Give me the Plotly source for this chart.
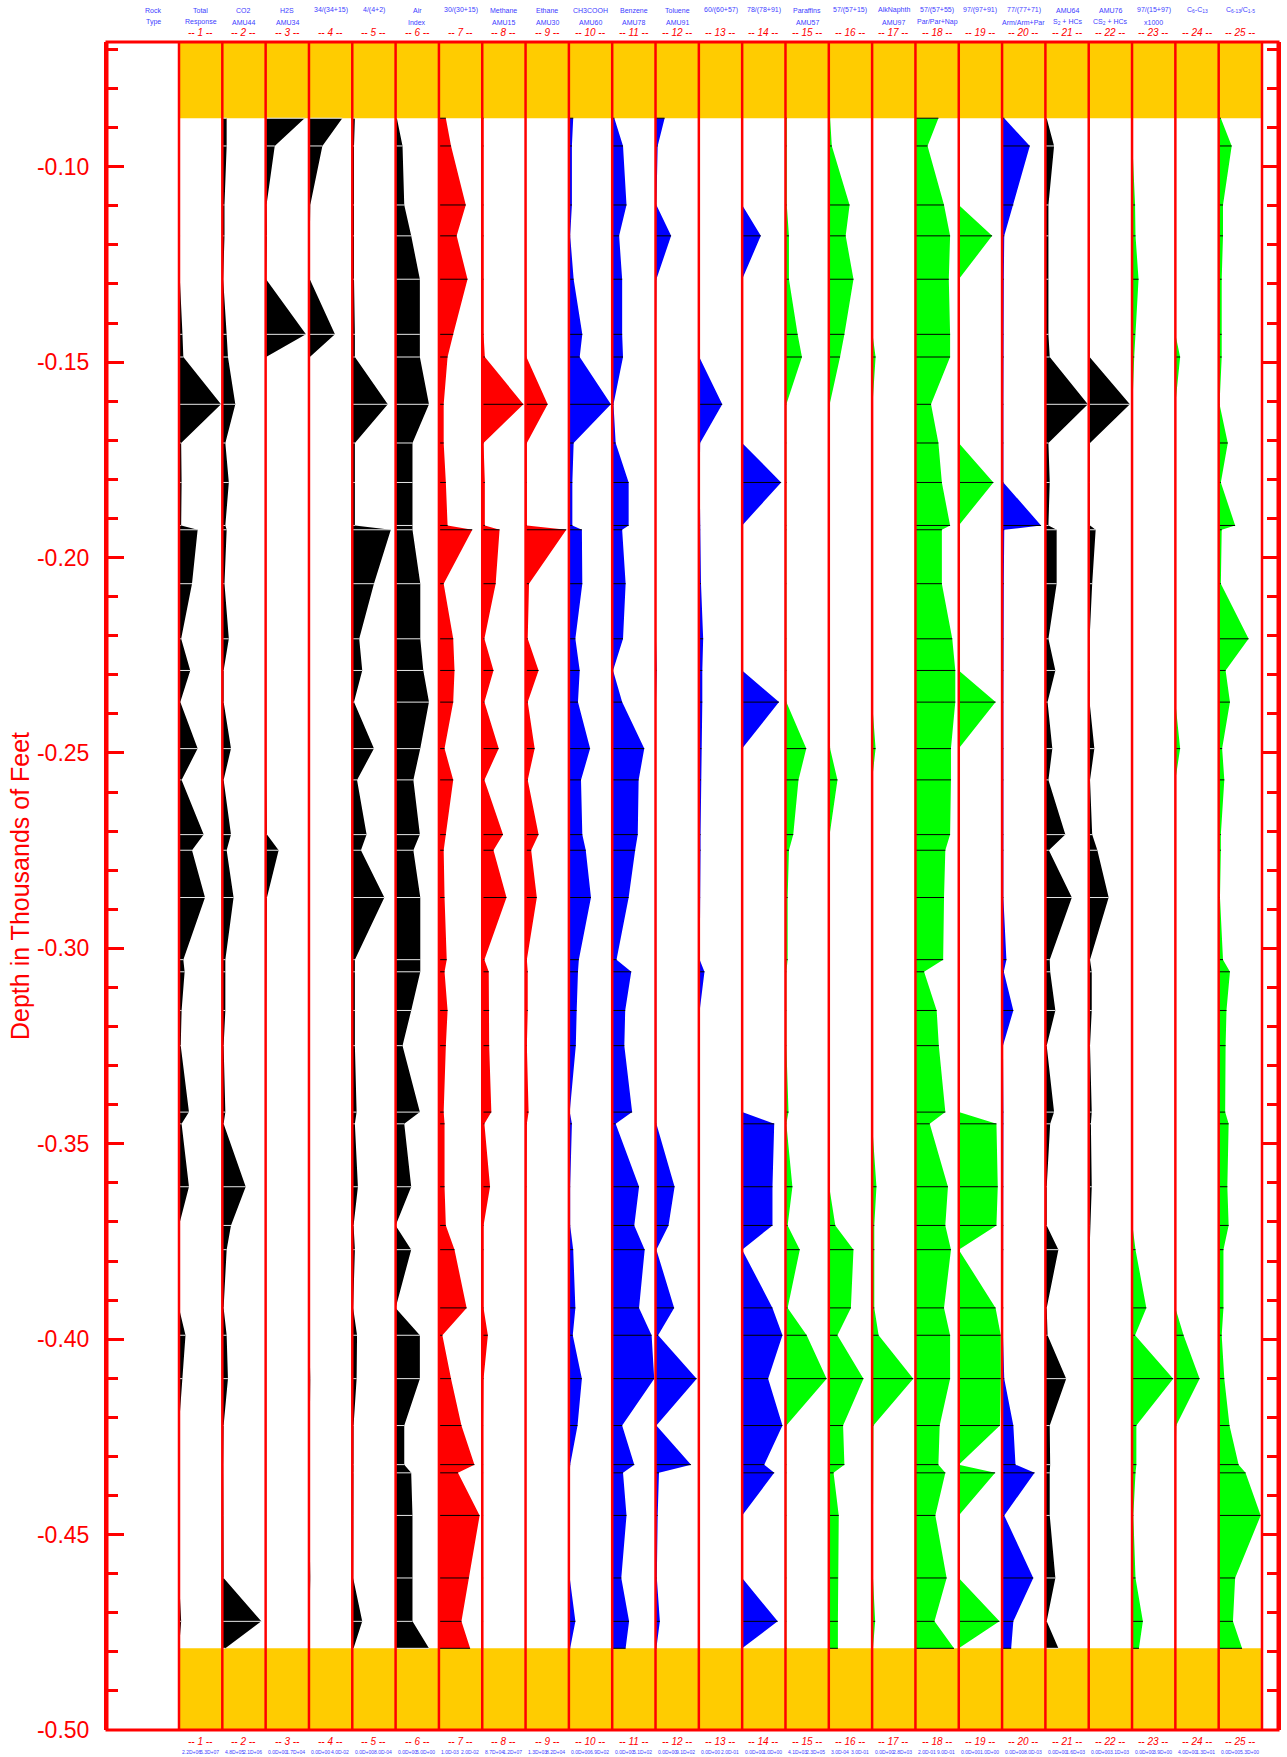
import plotly.graph_objects as go

# ---------------- data ----------------
depths = [-0.0876, -0.0947, -0.1098, -0.1177, -0.1288, -0.1429, -0.1487, -0.1608, -0.1707, -0.1808,
          -0.1918, -0.1929, -0.2067, -0.2208, -0.2289, -0.2370, -0.2489, -0.2569, -0.2709, -0.2749,
          -0.2870, -0.3029, -0.3060, -0.3159, -0.3249, -0.3419, -0.3449, -0.3610, -0.3709, -0.3771,
          -0.3920, -0.3990, -0.4101, -0.4221, -0.4321, -0.4342, -0.4451, -0.4611, -0.4722, -0.4791]

depth_tick_values = [-0.10, -0.15, -0.20, -0.25, -0.30, -0.35, -0.40, -0.45, -0.50]
depth_tick_labels = ["-0.10", "-0.15", "-0.20", "-0.25", "-0.30", "-0.35", "-0.40", "-0.45", "-0.50"]

# values are fractions of each track's scale (min..max shown under the track)
total_response = [0.02, 0.02, 0.02, 0.03, 0.02, 0.08, 0.10, 0.97, 0.05, 0.06,
                  0.05, 0.43, 0.30, 0.05, 0.26, 0.03, 0.43, 0.06, 0.57, 0.30,
                  0.60, 0.10, 0.13, 0.06, 0.04, 0.23, 0.06, 0.23, 0.00, 0.02,
                  0.00, 0.15, 0.08, 0.00, 0.00, 0.00, 0.00, 0.00, 0.05, 0.01]
co2 = [0.10, 0.10, 0.05, 0.05, 0.02, 0.10, 0.13, 0.30, 0.07, 0.15,
       0.07, 0.10, 0.05, 0.15, 0.03, 0.03, 0.20, 0.03, 0.20, 0.10,
       0.26, 0.07, 0.07, 0.07, 0.03, 0.07, 0.03, 0.54, 0.20, 0.10,
       0.03, 0.10, 0.13, 0.03, 0.02, 0.02, 0.02, 0.03, 0.90, 0.07]
h2s = [0.90, 0.21, 0.02, 0.03, 0.01, 0.93, 0.01, 0.01, 0.01, 0.01,
       0.01, 0.01, 0.01, 0.01, 0.01, 0.01, 0.01, 0.01, 0.03, 0.30,
       0.03, 0.01, 0.01, 0.01, 0.01, 0.01, 0.01, 0.01, 0.01, 0.01,
       0.01, 0.01, 0.01, 0.01, 0.01, 0.01, 0.01, 0.01, 0.01, 0.01]
r34 = [0.77, 0.31, 0.03, 0.02, 0.02, 0.60, 0.02, 0.01, 0.01, 0.01,
       0.01, 0.01, 0.01, 0.01, 0.01, 0.01, 0.01, 0.01, 0.01, 0.01,
       0.01, 0.01, 0.01, 0.01, 0.01, 0.01, 0.01, 0.01, 0.01, 0.01,
       0.01, 0.01, 0.03, 0.01, 0.01, 0.01, 0.01, 0.03, 0.01, 0.01]
r4 = [0.06, 0.04, 0.04, 0.04, 0.04, 0.06, 0.06, 0.82, 0.06, 0.06,
      0.06, 0.89, 0.50, 0.16, 0.23, 0.04, 0.50, 0.11, 0.33, 0.20,
      0.74, 0.06, 0.06, 0.06, 0.06, 0.10, 0.06, 0.13, 0.03, 0.06,
      0.02, 0.11, 0.10, 0.03, 0.03, 0.03, 0.02, 0.02, 0.23, 0.03]
air_index = [0.03, 0.16, 0.20, 0.36, 0.56, 0.56, 0.56, 0.77, 0.39, 0.39,
             0.39, 0.39, 0.57, 0.57, 0.64, 0.77, 0.57, 0.41, 0.56, 0.41,
             0.57, 0.57, 0.57, 0.36, 0.16, 0.56, 0.20, 0.36, 0.00, 0.36,
             0.00, 0.56, 0.56, 0.20, 0.20, 0.36, 0.39, 0.39, 0.39, 0.77]
r30 = [0.16, 0.28, 0.62, 0.41, 0.66, 0.33, 0.20, 0.11, 0.11, 0.16,
       0.20, 0.77, 0.11, 0.33, 0.36, 0.33, 0.13, 0.33, 0.16, 0.11,
       0.13, 0.18, 0.13, 0.20, 0.16, 0.11, 0.13, 0.13, 0.16, 0.36,
       0.64, 0.08, 0.28, 0.52, 0.82, 0.44, 0.94, 0.69, 0.52, 0.72]
methane = [0.03, 0.03, 0.03, 0.03, 0.03, 0.03, 0.06, 0.95, 0.03, 0.06,
           0.06, 0.40, 0.31, 0.05, 0.26, 0.05, 0.38, 0.05, 0.48, 0.26,
           0.56, 0.05, 0.15, 0.16, 0.16, 0.21, 0.05, 0.18, 0.03, 0.03,
           0.03, 0.13, 0.03, 0.02, 0.02, 0.02, 0.02, 0.02, 0.02, 0.02]
ethane = [0.01, 0.01, 0.01, 0.01, 0.01, 0.01, 0.02, 0.51, 0.03, 0.03,
          0.03, 0.94, 0.08, 0.05, 0.30, 0.05, 0.21, 0.05, 0.30, 0.13,
          0.26, 0.03, 0.05, 0.05, 0.03, 0.07, 0.03, 0.02, 0.01, 0.01,
          0.01, 0.01, 0.01, 0.01, 0.01, 0.01, 0.01, 0.01, 0.01, 0.01]
ch3cooh = [0.10, 0.07, 0.07, 0.03, 0.11, 0.31, 0.25, 0.97, 0.11, 0.08,
           0.08, 0.30, 0.31, 0.15, 0.25, 0.21, 0.49, 0.28, 0.31, 0.39,
           0.51, 0.23, 0.21, 0.18, 0.16, 0.02, 0.07, 0.03, 0.03, 0.10,
           0.15, 0.09, 0.30, 0.20, 0.03, 0.02, 0.02, 0.02, 0.15, 0.03]
benzene = [0.05, 0.25, 0.33, 0.16, 0.23, 0.23, 0.25, 0.03, 0.08, 0.38,
           0.38, 0.23, 0.31, 0.25, 0.02, 0.23, 0.74, 0.61, 0.59, 0.53,
           0.38, 0.10, 0.44, 0.30, 0.28, 0.46, 0.08, 0.62, 0.51, 0.75,
           0.62, 0.91, 0.97, 0.23, 0.51, 0.25, 0.33, 0.21, 0.39, 0.31]
toluene = [0.21, 0.05, 0.02, 0.36, 0.02, 0.01, 0.01, 0.01, 0.01, 0.01,
           0.01, 0.01, 0.01, 0.01, 0.03, 0.01, 0.01, 0.01, 0.01, 0.01,
           0.01, 0.01, 0.01, 0.01, 0.01, 0.01, 0.02, 0.44, 0.30, 0.02,
           0.43, 0.06, 0.95, 0.02, 0.82, 0.08, 0.05, 0.03, 0.10, 0.02]
r60 = [0.01, 0.01, 0.01, 0.01, 0.01, 0.01, 0.01, 0.54, 0.03, 0.02,
       0.03, 0.03, 0.05, 0.10, 0.08, 0.08, 0.06, 0.05, 0.04, 0.04,
       0.03, 0.02, 0.13, 0.02, 0.01, 0.01, 0.01, 0.01, 0.01, 0.01,
       0.01, 0.01, 0.01, 0.01, 0.01, 0.01, 0.01, 0.01, 0.01, 0.01]
r78 = [0.00, 0.00, 0.00, 0.43, 0.00, 0.00, 0.00, 0.00, 0.00, 0.90,
       0.00, 0.00, 0.00, 0.00, 0.00, 0.85, 0.00, 0.00, 0.00, 0.00,
       0.00, 0.00, 0.00, 0.00, 0.00, 0.00, 0.74, 0.70, 0.70, 0.00,
       0.70, 0.93, 0.60, 0.93, 0.51, 0.74, 0.00, 0.00, 0.82, 0.00]
paraffins = [0.03, 0.03, 0.03, 0.08, 0.08, 0.28, 0.38, 0.02, 0.02, 0.03,
             0.02, 0.02, 0.02, 0.02, 0.02, 0.02, 0.48, 0.30, 0.18, 0.08,
             0.05, 0.05, 0.02, 0.02, 0.02, 0.07, 0.02, 0.16, 0.05, 0.33,
             0.05, 0.49, 0.95, 0.02, 0.02, 0.02, 0.02, 0.02, 0.02, 0.02]
r57_15 = [0.03, 0.07, 0.48, 0.39, 0.57, 0.36, 0.26, 0.02, 0.02, 0.02,
          0.01, 0.01, 0.01, 0.01, 0.01, 0.01, 0.03, 0.20, 0.02, 0.01,
          0.01, 0.01, 0.01, 0.01, 0.01, 0.01, 0.01, 0.01, 0.15, 0.57,
          0.51, 0.20, 0.80, 0.33, 0.36, 0.11, 0.23, 0.21, 0.21, 0.21]
alk_naphth = [0.00, 0.00, 0.00, 0.00, 0.00, 0.01, 0.08, 0.01, 0.00, 0.00,
              0.00, 0.00, 0.00, 0.00, 0.00, 0.00, 0.08, 0.00, 0.00, 0.00,
              0.00, 0.00, 0.00, 0.00, 0.00, 0.00, 0.00, 0.10, 0.05, 0.05,
              0.05, 0.15, 0.95, 0.03, 0.02, 0.02, 0.02, 0.02, 0.07, 0.02]
r57_55 = [0.53, 0.28, 0.66, 0.80, 0.77, 0.80, 0.80, 0.36, 0.53, 0.61,
          0.80, 0.61, 0.61, 0.85, 0.92, 0.92, 0.82, 0.82, 0.80, 0.69,
          0.66, 0.64, 0.20, 0.49, 0.54, 0.69, 0.33, 0.75, 0.69, 0.82,
          0.66, 0.80, 0.80, 0.56, 0.53, 0.69, 0.46, 0.72, 0.44, 0.89]
r97_91 = [0.00, 0.00, 0.00, 0.77, 0.00, 0.00, 0.00, 0.00, 0.00, 0.80,
          0.00, 0.00, 0.00, 0.00, 0.00, 0.85, 0.00, 0.00, 0.00, 0.00,
          0.00, 0.00, 0.00, 0.00, 0.00, 0.00, 0.87, 0.90, 0.87, 0.00,
          0.85, 0.97, 0.97, 0.95, 0.00, 0.84, 0.00, 0.00, 0.94, 0.00]
r77_71 = [0.05, 0.64, 0.26, 0.05, 0.04, 0.03, 0.04, 0.03, 0.03, 0.03,
          0.90, 0.05, 0.04, 0.03, 0.03, 0.03, 0.03, 0.03, 0.03, 0.03,
          0.03, 0.10, 0.04, 0.26, 0.02, 0.03, 0.03, 0.03, 0.03, 0.03,
          0.03, 0.02, 0.05, 0.26, 0.31, 0.75, 0.05, 0.72, 0.26, 0.21]
amu64 = [0.03, 0.20, 0.07, 0.07, 0.07, 0.07, 0.10, 0.98, 0.07, 0.10,
         0.07, 0.26, 0.26, 0.07, 0.23, 0.05, 0.16, 0.07, 0.46, 0.08,
         0.61, 0.10, 0.11, 0.23, 0.03, 0.20, 0.11, 0.03, 0.03, 0.30,
         0.03, 0.05, 0.48, 0.10, 0.11, 0.10, 0.10, 0.23, 0.03, 0.30]
amu76 = [0.02, 0.02, 0.02, 0.02, 0.02, 0.02, 0.02, 0.95, 0.03, 0.03,
         0.03, 0.16, 0.08, 0.02, 0.03, 0.02, 0.13, 0.03, 0.08, 0.20,
         0.46, 0.03, 0.07, 0.07, 0.03, 0.07, 0.05, 0.07, 0.03, 0.02,
         0.02, 0.02, 0.03, 0.02, 0.02, 0.02, 0.02, 0.03, 0.02, 0.02]
r97_15x1000 = [0.00, 0.01, 0.07, 0.08, 0.15, 0.07, 0.05, 0.01, 0.01, 0.00,
               0.01, 0.01, 0.01, 0.01, 0.01, 0.01, 0.01, 0.01, 0.01, 0.01,
               0.01, 0.01, 0.01, 0.01, 0.01, 0.01, 0.01, 0.01, 0.01, 0.08,
               0.33, 0.07, 0.95, 0.10, 0.10, 0.08, 0.03, 0.08, 0.25, 0.16]
c6_c13 = [0.00, 0.00, 0.00, 0.00, 0.00, 0.00, 0.11, 0.00, 0.00, 0.00,
          0.00, 0.00, 0.00, 0.00, 0.00, 0.00, 0.11, 0.00, 0.00, 0.00,
          0.00, 0.00, 0.00, 0.00, 0.00, 0.00, 0.00, 0.00, 0.00, 0.00,
          0.00, 0.19, 0.56, 0.02, 0.00, 0.00, 0.00, 0.00, 0.00, 0.00]
c613_c15 = [0.05, 0.30, 0.10, 0.10, 0.07, 0.07, 0.07, 0.02, 0.21, 0.05,
            0.38, 0.07, 0.05, 0.69, 0.16, 0.26, 0.08, 0.13, 0.05, 0.05,
            0.03, 0.10, 0.26, 0.18, 0.16, 0.15, 0.23, 0.20, 0.23, 0.11,
            0.11, 0.07, 0.13, 0.25, 0.46, 0.62, 0.97, 0.38, 0.33, 0.54]

header_line1 = ["Total", "CO2", "H2S", "34/(34+15)", "4/(4+2)", "Air", "30/(30+15)", "Methane",
                "Ethane", "CH3COOH", "Benzene", "Toluene", "60/(60+57)", "78/(78+91)", "Paraffins",
                "57/(57+15)", "AlkNaphth", "57/(57+55)", "97/(97+91)", "77/(77+71)", "AMU64",
                "AMU76", "97/(15+97)", "C<sub>6</sub>-C<sub>13</sub>",
                "C<sub>6-13</sub>/C<sub>1-5</sub>"]
header_line2 = ["Response", "AMU44", "AMU34", "", "", "Index", "", "AMU15", "AMU30", "AMU60",
                "AMU78", "AMU91", "", "", "AMU57", "", "AMU97", "Par/Par+Nap", "", "Arm/Arm+Par",
                "S<sub>2</sub> + HCs", "CS<sub>2</sub> + HCs", "x1000", "", ""]
scale_min = ["2.2D+06", "4.8D+05", "0.0D+00", "0.0D+00", "0.0D+00", "0.0D+00", "1.0D-03", "8.7D+04",
             "1.3D+03", "0.0D+00", "0.0D+00", "0.0D+00", "0.0D+00", "0.0D+00", "4.1D+03", "3.0D-04",
             "0.0D+00", "2.0D-01", "0.0D+00", "0.0D+00", "0.0D+00", "0.0D+00", "0.0D+00", "4.0D+00",
             "0.0D+00"]
scale_max = ["5.3D+07", "2.1D+06", "1.7D+04", "4.0D-02", "8.0D-04", "5.0D+00", "2.0D-02", "1.2D+07",
             "8.2D+04", "6.9D+02", "5.1D+02", "9.1D+02", "2.0D-01", "1.0D+00", "2.3D+05", "3.0D-01",
             "2.8D+03", "9.0D-01", "1.0D+00", "8.0D-03", "1.6D+03", "3.1D+03", "3.9D+00", "1.3D+01",
             "5.3D+00"]

tracks = [total_response, co2, h2s, r34, r4, air_index, r30, methane, ethane, ch3cooh, benzene,
          toluene, r60, r78, paraffins, r57_15, alk_naphth, r57_55, r97_91, r77_71, amu64, amu76,
          r97_15x1000, c6_c13, c613_c15]

# ---------------- styles ----------------
BLACK, RED, BLUE, GREEN = "#000000", "#ff0000", "#0000ff", "#00ff00"
fill_colors = [BLACK] * 6 + [RED] * 3 + [BLUE] * 5 + [GREEN] * 5 + [BLUE] + [BLACK] * 2 + [GREEN] * 3
ORANGE = "#ffcc00"
HDR_BLUE = "#3d3dff"
FONT = "Liberation Sans, Arial, sans-serif"

W, H = 1287, 1757
ML, MR, MT, MB = 107, 9, 42, 27
PW = W - ML - MR
PH = H - MT - MB
TRACK_X0 = 179
TRACK_W = 43.32
Y_TOP, Y_BOT = -0.0681, -0.50


def px_to_paper_x(px):
    return (px - ML) / PW


def px_to_paper_y(py):
    return (H - MB - py) / PH


fig = go.Figure()
layout_axes = {}
n = len(tracks)
for i in range(n):
    ax = i + 2
    left = px_to_paper_x(TRACK_X0 + TRACK_W * i)
    right = px_to_paper_x(TRACK_X0 + TRACK_W * (i + 1))
    layout_axes[f"xaxis{ax}"] = dict(domain=[left, right], range=[0, 1], visible=False,
                                     anchor="y", fixedrange=True)
    vals = tracks[i]
    xs = [0] + vals + [0]
    ys = [depths[0]] + depths + [depths[-1]]
    fig.add_trace(go.Scatter(x=xs, y=ys, xaxis=f"x{ax}", yaxis="y", mode="lines",
                             fill="toself", fillcolor=fill_colors[i],
                             line=dict(width=0, color=fill_colors[i]),
                             hoverinfo="skip", showlegend=False))
    lx, ly = [], []
    for d, v in zip(depths, vals):
        lx += [0, v, None]
        ly += [d, d, None]
    lc = "#e8e8e8" if fill_colors[i] == BLACK else "#000000"
    fig.add_trace(go.Scatter(x=lx, y=ly, xaxis=f"x{ax}", yaxis="y", mode="lines",
                             line=dict(width=1, color=lc), hoverinfo="skip", showlegend=False))

# invisible anchor trace so the right-hand depth axis is rendered
fig.add_trace(go.Scatter(x=[None], y=[None], xaxis="x", yaxis="y2", mode="markers",
                         hoverinfo="skip", showlegend=False))

shapes = []
tx0 = px_to_paper_x(TRACK_X0)
tx1 = px_to_paper_x(TRACK_X0 + TRACK_W * n)
shapes.append(dict(type="rect", xref="paper", yref="y", x0=tx0, x1=tx1, y0=depths[0], y1=Y_TOP,
                   fillcolor=ORANGE, line=dict(width=0), layer="below"))
shapes.append(dict(type="rect", xref="paper", yref="y", x0=tx0, x1=tx1, y0=Y_BOT, y1=depths[-1],
                   fillcolor=ORANGE, line=dict(width=0), layer="below"))
for i in range(n + 1):
    xp = px_to_paper_x(TRACK_X0 + TRACK_W * i)
    shapes.append(dict(type="line", xref="paper", yref="paper", x0=xp, x1=xp, y0=0, y1=1,
                       line=dict(color=RED, width=2.5), layer="above"))
shapes.append(dict(type="rect", xref="paper", yref="paper", x0=0, x1=1, y0=0, y1=1,
                   line=dict(color=RED, width=3), layer="above"))

annotations = []
y1p = px_to_paper_y(10)
y2p = px_to_paper_y(22)
ynp = px_to_paper_y(32)
ybn = px_to_paper_y(1741)
ybs = px_to_paper_y(1752)
for i in range(n):
    cx = px_to_paper_x(TRACK_X0 + TRACK_W * (i + 0.5))
    annotations.append(dict(x=cx, y=y1p, xref="paper", yref="paper", text=header_line1[i],
                            showarrow=False, font=dict(family=FONT, size=7, color=HDR_BLUE),
                            xanchor="center", yanchor="middle"))
    if header_line2[i]:
        annotations.append(dict(x=cx, y=y2p, xref="paper", yref="paper", text=header_line2[i],
                                showarrow=False, font=dict(family=FONT, size=7, color=HDR_BLUE),
                                xanchor="center", yanchor="middle"))
    num = f"<i>-- {i + 1} --</i>"
    annotations.append(dict(x=cx, y=ynp, xref="paper", yref="paper", text=num, showarrow=False,
                            font=dict(family=FONT, size=10, color=RED), xanchor="center",
                            yanchor="middle"))
    annotations.append(dict(x=cx, y=ybn, xref="paper", yref="paper", text=num, showarrow=False,
                            font=dict(family=FONT, size=10, color=RED), xanchor="center",
                            yanchor="middle"))
    lx = px_to_paper_x(TRACK_X0 + TRACK_W * i + 0.5)
    rx = px_to_paper_x(TRACK_X0 + TRACK_W * (i + 1) - 1.5)
    annotations.append(dict(x=lx, y=ybs, xref="paper", yref="paper", text=scale_min[i],
                            showarrow=False, font=dict(family=FONT, size=5, color=HDR_BLUE),
                            xanchor="left", yanchor="middle"))
    annotations.append(dict(x=rx, y=ybs, xref="paper", yref="paper", text=scale_max[i],
                            showarrow=False, font=dict(family=FONT, size=5, color=HDR_BLUE),
                            xanchor="right", yanchor="middle"))

rock_x = px_to_paper_x(153)
annotations.append(dict(x=rock_x, y=y1p, xref="paper", yref="paper", text="Rock", showarrow=False,
                        font=dict(family=FONT, size=7, color=HDR_BLUE), xanchor="center",
                        yanchor="middle"))
annotations.append(dict(x=rock_x, y=y2p, xref="paper", yref="paper", text="Type", showarrow=False,
                        font=dict(family=FONT, size=7, color=HDR_BLUE), xanchor="center",
                        yanchor="middle"))
annotations.append(dict(x=px_to_paper_x(20), y=0.5, xref="paper", yref="paper",
                        text="Depth in Thousands of Feet", textangle=-90, showarrow=False,
                        font=dict(family=FONT, size=25, color=RED), xanchor="center",
                        yanchor="middle"))

tick_common = dict(ticks="inside", tickwidth=3, tickcolor=RED,
                   tickmode="array", tickvals=depth_tick_values,
                   minor=dict(ticks="inside", ticklen=11, tickwidth=3, tickcolor=RED,
                              tickmode="linear", dtick=0.01, tick0=0, showgrid=False),
                   showgrid=False, zeroline=False, showline=True, linecolor=RED, linewidth=3,
                   fixedrange=True)

fig.update_layout(
    width=W, height=H,
    margin=dict(l=ML, r=MR, t=MT, b=MB, pad=0),
    paper_bgcolor="white", plot_bgcolor="rgba(0,0,0,0)",
    showlegend=False,
    xaxis=dict(domain=[0, 1], range=[0, 1], visible=False, fixedrange=True),
    yaxis=dict(range=[Y_BOT, Y_TOP], anchor="x", side="left", ticklen=17,
               ticktext=depth_tick_labels, ticklabelstandoff=10,
               tickfont=dict(family=FONT, size=23, color=RED), **tick_common),
    yaxis2=dict(range=[Y_BOT, Y_TOP], anchor="x", side="right", overlaying="y", ticklen=17,
                showticklabels=False, **tick_common),
    shapes=shapes,
    annotations=annotations,
    **layout_axes,
)

fig.write_html("out.html", config={"displayModeBar": False},
               post_script="document.body.style.margin='0px';")
